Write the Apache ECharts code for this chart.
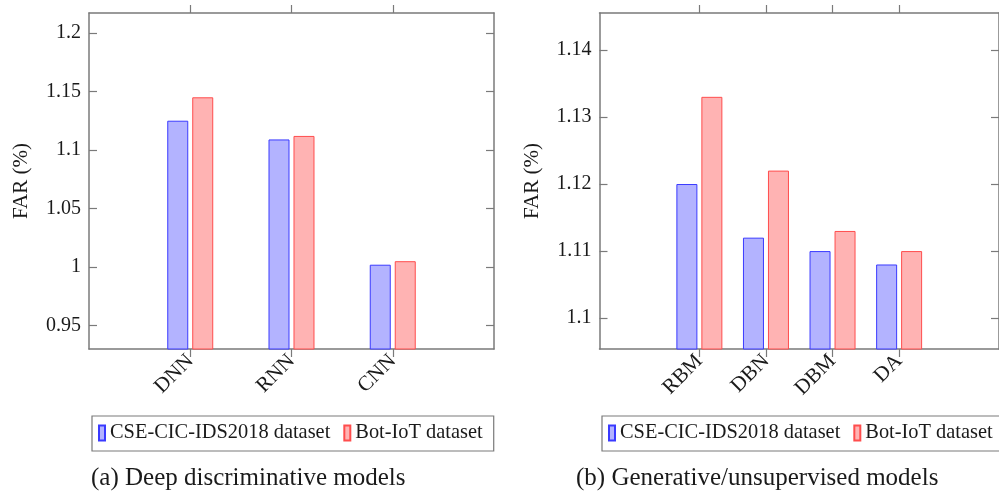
<!DOCTYPE html>
<html>
<head>
<meta charset="utf-8">
<script src="https://cdn.jsdelivr.net/npm/echarts@6/dist/echarts.min.js"></script>
<style>
html,body{margin:0;padding:0;background:#fff;}
#chart{width:999px;height:493px;}
</style>
</head>
<body>
<div id="chart"></div>
<script>
// ---- data ----
const catsA = ['DNN', 'RNN', 'CNN'];
const cicA = [1.125, 1.109, 1.002];
const botA = [1.145, 1.112, 1.005];
const yTicksA = [0.95, 1, 1.05, 1.1, 1.15, 1.2];

const catsB = ['RBM', 'DBN', 'DBM', 'DA'];
const cicB = [1.120, 1.112, 1.110, 1.108];
const botB = [1.133, 1.122, 1.113, 1.110];
const yTicksB = [1.1, 1.11, 1.12, 1.13, 1.14];

const seriesNames = ['CSE-CIC-IDS2018 dataset', 'Bot-IoT dataset'];
const captions = ['(a) Deep discriminative models', '(b) Generative/unsupervised models'];
const yName = 'FAR (%)';

// ---- styling ----
const FONT = "'Liberation Serif', 'DejaVu Serif', serif";
const TXT = '#1a1a1a';
const BOX = '#7a7a7a';
const BLUE_FILL = '#b3b3ff', BLUE_LINE = '#3a3aff';
const RED_FILL = '#ffb3b3', RED_LINE = '#ff4d4d';

const pad = arr => ['-'].concat(arr, ['-']);
const padCats = arr => [''].concat(arr, ['']);

function xAxes(gridIndex, cats, boundaryGap) {
  const n = cats.length + 2;
  const tickInt = (i) => i > 0 && i < n - 1;
  const base = {
    type: 'category', gridIndex, data: padCats(cats), boundaryGap,
    axisLine: {show: true, lineStyle: {color: BOX, width: 1.5}},
    axisTick: {show: true, inside: false, length: 8, alignWithLabel: true, interval: tickInt,
               lineStyle: {color: BOX, width: 1.2}},
    splitLine: {show: false}
  };
  return [
    Object.assign({}, base, {position: 'bottom',
      axisLabel: {show: true, rotate: 45, margin: 9, interval: 0, fontFamily: FONT, fontSize: 21, color: TXT}}),
    Object.assign({}, base, {position: 'top', axisLabel: {show: false}})
  ];
}

function yAxes(gridIndex, min, max, ticks) {
  const base = {
    type: 'value', gridIndex, min, max,
    axisLine: {show: true, lineStyle: {color: BOX, width: 1.5}},
    axisTick: {show: true, inside: true, length: 8, customValues: ticks, lineStyle: {color: BOX, width: 1.2}},
    splitLine: {show: false}
  };
  return [
    Object.assign({}, base, {position: 'left', name: yName, nameLocation: 'middle', nameGap: 57,
      nameTextStyle: {fontFamily: FONT, fontSize: 21, color: TXT},
      axisLabel: {show: true, customValues: ticks, margin: 8, fontFamily: FONT, fontSize: 20, color: TXT,
                  formatter: v => String(v)}}),
    Object.assign({}, base, {position: 'right', axisLabel: {show: false}})
  ];
}

function bars(xIdx, yIdx, cic, bot) {
  return [
    {name: seriesNames[0], type: 'bar', xAxisIndex: xIdx, yAxisIndex: yIdx, data: pad(cic),
     barWidth: 21, barGap: '19%',
     itemStyle: {color: BLUE_FILL, borderColor: BLUE_LINE, borderWidth: 1}},
    {name: seriesNames[1], type: 'bar', xAxisIndex: xIdx, yAxisIndex: yIdx, data: pad(bot),
     barWidth: 21, barGap: '19%',
     itemStyle: {color: RED_FILL, borderColor: RED_LINE, borderWidth: 1}}
  ];
}

const legendBase = {
  data: seriesNames, orient: 'horizontal', top: 416, icon: 'rect', width: 420,
  itemWidth: 6, itemHeight: 15, itemGap: 13,
  padding: [7, 11, 8, 6],
  borderColor: BOX, borderWidth: 1.2,
  textStyle: {fontFamily: FONT, fontSize: 20.4, color: TXT},
  selectedMode: false
};

const capStyle = {fontFamily: FONT, fontSize: 25, fontWeight: 'normal', color: TXT};

const chart = echarts.init(document.getElementById('chart'), null, {renderer: 'canvas'});
chart.setOption({
  backgroundColor: '#fff',
  animation: false,
  grid: [
    {left: 89, width: 405, top: 13, bottom: 144},
    {left: 599.5, width: 404, top: 13, bottom: 144}
  ],
  xAxis: xAxes(0, catsA, false).concat(xAxes(1, catsB, true)),
  yAxis: yAxes(0, 0.930, 1.217, yTicksA).concat(yAxes(1, 1.0954, 1.1455, yTicksB)),
  legend: [
    Object.assign({}, legendBase, {left: 92}),
    Object.assign({}, legendBase, {left: 602})
  ],
  title: [
    {text: captions[0], left: 86, top: 461, textStyle: capStyle},
    {text: captions[1], left: 571, top: 461, textStyle: capStyle}
  ],
  series: bars(0, 0, cicA, botA).concat(bars(2, 2, cicB, botB))
});
</script>
</body>
</html>
